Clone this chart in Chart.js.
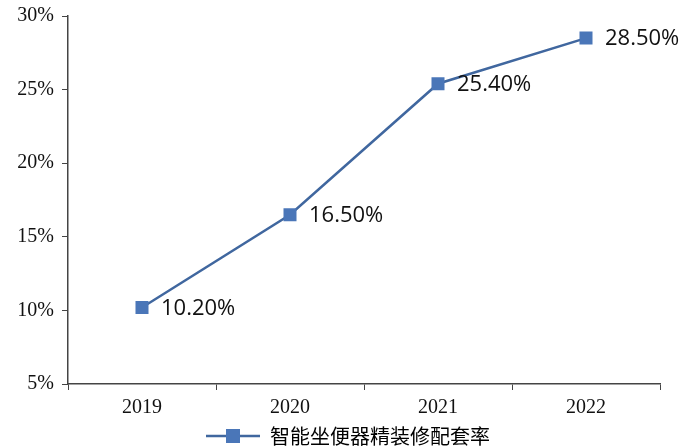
<!DOCTYPE html>
<html>
<head>
<meta charset="utf-8">
<script src="https://cdn.jsdelivr.net/npm/chart.js@4"></script>
<style>
  html, body { margin: 0; padding: 0; background: #fff; }
  #box { width: 683px; height: 448px; }
</style>
</head>
<body>
<div id="box"><canvas id="rateChart"></canvas></div>
<script>
// data
const years = ["2019", "2020", "2021", "2022"];
const rates = [10.2, 16.5, 25.4, 28.5];
const rateLabels = ["10.20%", "16.50%", "25.40%", "28.50%"];
const seriesName = "智能坐便器精装修配套率";
const yMin = 5, yMax = 30, yStep = 5;

const blue = "#4a76b8";
const lineBlue = "#40679f";

// legend marker: short line with a square on it (left part left blank to nudge it right)
function legendMarker() {
  const c = document.createElement("canvas");
  c.width = 90; c.height = 14;
  const g = c.getContext("2d");
  g.strokeStyle = lineBlue;
  g.lineWidth = 2.5;
  g.beginPath(); g.moveTo(36, 7); g.lineTo(90, 7); g.stroke();
  g.fillStyle = blue;
  g.fillRect(56, 0, 14, 14);
  return c;
}

// draw the value labels to the right of each point
const valueLabels = {
  id: "valueLabels",
  afterDatasetsDraw(chart) {
    const ctx = chart.ctx;
    const meta = chart.getDatasetMeta(0);
    ctx.save();
    ctx.font = "22px 'Open Sans', 'Noto Sans', sans-serif";
    ctx.fillStyle = "#111";
    ctx.textAlign = "left";
    ctx.textBaseline = "middle";
    meta.data.forEach((pt, i) => {
      ctx.fillText(rateLabels[i], pt.x + 19, pt.y + 1);
    });
    ctx.restore();
  }
};

const ctx = document.getElementById("rateChart").getContext("2d");
new Chart(ctx, {
  type: "line",
  data: {
    labels: years,
    datasets: [{
      label: seriesName,
      data: rates,
      borderColor: lineBlue,
      borderWidth: 2.5,
      backgroundColor: blue,
      pointStyle: "rect",
      pointRadius: 9.2,
      pointBorderWidth: 0,
      pointBackgroundColor: blue,
      fill: false,
      tension: 0
    }]
  },
  options: {
    responsive: true,
    maintainAspectRatio: false,
    animation: false,
    layout: { padding: { top: 5, right: 23, left: 0, bottom: -8 } },
    plugins: {
      legend: {
        position: "bottom",
        labels: {
          usePointStyle: true,
          pointStyleWidth: 90,
          padding: 0,
          color: "#3a3a3a",
          font: { family: "'Noto Sans CJK SC'", size: 20 },
          generateLabels(chart) {
            return [{
              text: seriesName,
              pointStyle: legendMarker(),
              fillStyle: blue,
              strokeStyle: blue,
              lineWidth: 0,
              datasetIndex: 0
            }];
          }
        }
      },
      tooltip: { enabled: false }
    },
    scales: {
      x: {
        offset: true,
        grid: { drawOnChartArea: false, drawTicks: true, tickLength: 6, color: "#444", offset: true },
        border: { color: "#444", width: 1.5 },
        ticks: { color: "#111", padding: 6, font: { family: "'Liberation Serif'", size: 20 } },
        afterFit(scale) { scale.height = 42; }
      },
      y: {
        min: yMin,
        max: yMax,
        grid: { drawOnChartArea: false, drawTicks: true, tickLength: 6, color: "#444" },
        border: { color: "#444", width: 1.5 },
        ticks: {
          stepSize: yStep,
          color: "#111",
          padding: 8,
          font: { family: "'Liberation Serif'", size: 20, lineHeight: 0.8 },
          callback: v => v + "%"
        },
        afterFit(scale) { scale.width = 68; }
      }
    }
  },
  plugins: [valueLabels]
});
</script>
</body>
</html>
